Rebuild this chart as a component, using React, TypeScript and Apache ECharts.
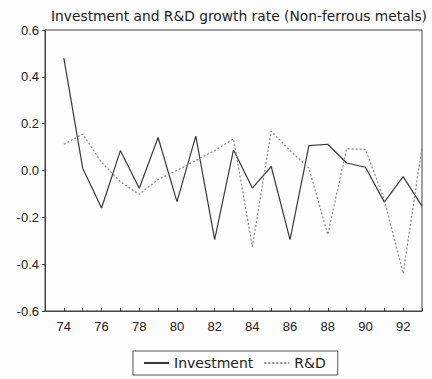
import React, { useEffect, useRef } from "react";
import * as echarts from "echarts";

const years = [74, 75, 76, 77, 78, 79, 80, 81, 82, 83, 84, 85, 86, 87, 88, 89, 90, 91, 92, 93];
const investment = [0.48, 0.01, -0.16, 0.085, -0.076, 0.141, -0.133, 0.147, -0.295, 0.088, -0.075, 0.017, -0.295, 0.106, 0.112, 0.032, 0.014, -0.135, -0.026, -0.152];
const rnd = [0.112, 0.155, 0.035, -0.048, -0.102, -0.038, 0.0, 0.043, 0.085, 0.135, -0.325, 0.168, 0.085, 0.01, -0.274, 0.093, 0.09, -0.125, -0.44, 0.1];
const yTicks = [-0.6, -0.4, -0.2, 0.0, 0.2, 0.4, 0.6];
const titleText = "Investment and R&D growth rate (Non-ferrous metals)";
const seriesNames = ["Investment", "R&D"];

export default function App() {
  const ref = useRef<HTMLDivElement>(null);
  useEffect(() => {
    if (!ref.current) return;
    const chart = echarts.init(ref.current, undefined, { renderer: "svg" });
    const font = "Liberation Sans, Arial, sans-serif";
    const wideFont = "DejaVu Sans, sans-serif";
    chart.setOption({
      animation: false,
      backgroundColor: "#fdfdfd",
      title: {
        text: titleText,
        left: 51,
        top: 9,
        padding: 0,
        textStyle: { fontFamily: wideFont, fontSize: 13.8, fontWeight: "normal", color: "#222" },
      },
      legend: {
        left: 133,
        bottom: 4,
        orient: "horizontal",
        data: seriesNames,
        itemWidth: 25,
        itemHeight: 12,
        itemGap: 10,
        padding: [5, 12, 5, 10],
        borderColor: "#555",
        borderWidth: 1,
        itemStyle: { opacity: 0 },
        textStyle: { fontFamily: wideFont, fontSize: 14, color: "#222" },
      },
      grid: { left: 45, right: 10, top: 30, bottom: 68, show: true, borderColor: "#444", borderWidth: 1, backgroundColor: "transparent" },
      xAxis: {
        type: "value",
        min: 73,
        max: 93,
        interval: 1,
        axisLine: { show: true, onZero: false, lineStyle: { color: "#444" } },
        axisTick: { show: true, inside: true, length: 3, lineStyle: { color: "#444" } },
        axisLabel: {
          margin: 9,
          fontFamily: font,
          fontSize: 13,
          color: "#222",
          formatter: (v: number) => (v % 2 === 0 && years.includes(v) ? String(v) : ""),
        },
        splitLine: { show: false },
      },
      yAxis: {
        type: "value",
        min: yTicks[0],
        max: yTicks[yTicks.length - 1],
        interval: 0.2,
        axisLine: { show: true, onZero: false, lineStyle: { color: "#444" } },
        axisTick: { show: true, inside: false, length: 3, lineStyle: { color: "#444" } },
        axisLabel: {
          margin: 6,
          fontFamily: font,
          fontSize: 13,
          color: "#222",
          formatter: (v: number) => v.toFixed(1),
        },
        splitLine: { show: false },
      },
      series: [
        {
          name: seriesNames[0],
          type: "line",
          symbol: "none",
          data: years.map((y, i) => [y, investment[i]]),
          lineStyle: { color: "#3a3a3a", width: 1.2, type: "solid" },
          itemStyle: { color: "#3a3a3a" },
        },
        {
          name: seriesNames[1],
          type: "line",
          symbol: "none",
          data: years.map((y, i) => [y, rnd[i]]),
          lineStyle: { color: "#888", width: 1.2, type: [2, 2] },
          itemStyle: { color: "#888" },
        },
      ],
    });
    return () => chart.dispose();
  }, []);
  return <div ref={ref} style={{ width: 432, height: 379, position: "absolute", left: 0, top: 0 }} />;
}
